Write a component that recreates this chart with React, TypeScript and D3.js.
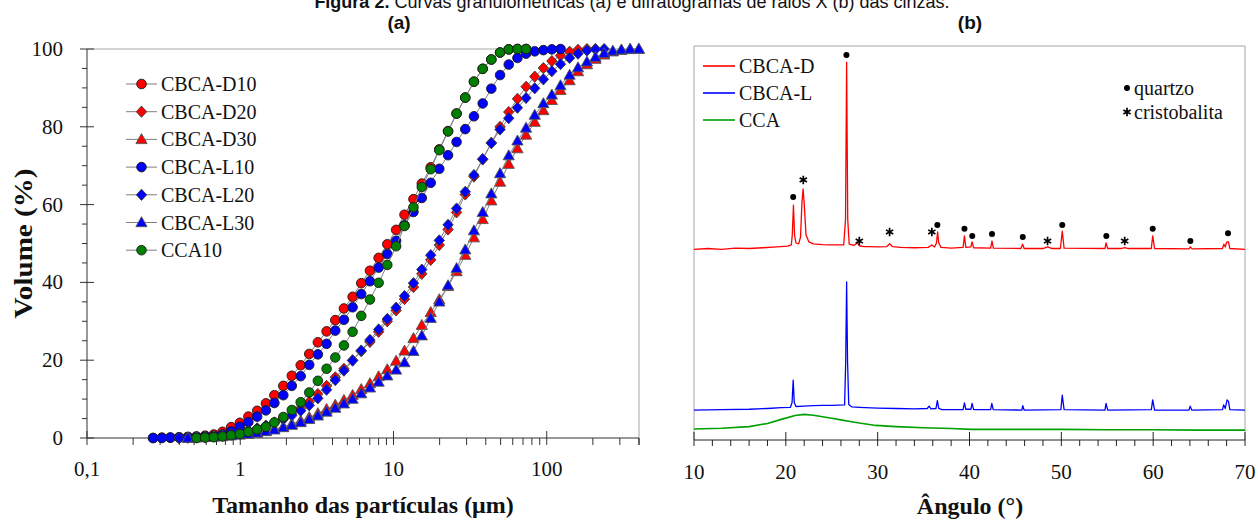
import { useRef, useEffect } from 'react';
import * as d3 from 'd3';

// ---------- (a) particle size distribution ----------
// size classes of the analyser (µm)
const SIZES = [0.270, 0.308, 0.350, 0.399, 0.455, 0.518, 0.590, 0.672, 0.766, 0.872, 0.994,
  1.13, 1.29, 1.47, 1.67, 1.91, 2.17, 2.48, 2.82, 3.21, 3.66, 4.17, 4.75, 5.41, 6.16, 7.02,
  8.00, 9.11, 10.4, 11.8, 13.5, 15.3, 17.5, 19.9, 22.7, 25.8, 29.4, 33.5, 38.2, 43.5, 49.6,
  56.5, 64.4, 73.3, 83.5, 95.1, 108, 123, 141, 160, 183, 208, 237, 270, 307, 350, 399];

// cumulative volume (%), null = class not plotted
const D10 = [0, 0.1, 0.1, 0.2, 0.3, 0.4, 0.6, 0.9, 1.6, 2.8, 3.9, 5.5, 7.0, 8.9, 11.0, 13.4, 16.0,
  18.7, 21.6, 24.6, 27.4, 30.3, 33.3, 36.3, 39.8, 43.0, 46.3, 49.8, 53.5, 57.4, 61.4, 65.4, 69.6,
  74.2, 78.9, 83.4, 87.5, 91.6, 94.9, 97.3, 99.1, 99.9, 100, 100,
  null, null, null, null, null, null, null, null, null, null, null, null, null];
const D20 = [null, null, null, 0, 0.1, 0.2, 0.3, 0.5, 0.7, 1.0, 1.4, 1.9, 2.5, 3.2, 4.0, 5.0, 6.2,
  7.6, 9.3, 11.3, 13.4, 15.6, 17.8, 20.0, 22.3, 24.7, 27.3, 30.0, 32.8, 35.7, 38.8, 42.2, 45.8,
  49.6, 53.6, 58.0, 62.6, 67.2, 71.6, 75.9, 80.0, 83.8, 87.2, 90.3, 92.9, 95.1, 96.9, 98.3, 99.3,
  99.8, 100, 100, null, null, null, null, null];
const D30 = [null, null, null, null, 0, 0.1, 0.2, 0.3, 0.5, 0.7, 0.9, 1.1, 1.4, 1.8, 2.3, 2.9, 3.6,
  4.4, 5.3, 6.3, 7.4, 8.5, 9.7, 11.0, 12.5, 14.0, 15.8, 17.6, 19.8, 22.4, 25.6, 29.0, 32.3, 35.6,
  39.0, 42.8, 47.0, 51.5, 56.2, 61.0, 65.8, 70.4, 74.4, 77.9, 81.2, 84.2, 86.8, 89.4, 91.9, 94.2,
  96.0, 97.4, 98.5, 99.3, 99.7, 99.9, 100];
const L10 = [0, 0, 0.1, 0.1, 0.2, 0.3, 0.4, 0.5, 0.9, 1.7, 2.9, 4.1, 5.5, 7.1, 9.0, 11.0, 13.4, 15.9,
  18.8, 21.5, 24.2, 27.6, 30.4, 33.6, 37.0, 40.3, 43.8, 47.3, 50.7, 54.7, 58.1, 61.7, 65.6, 69.2,
  72.7, 76.1, 79.4, 82.7, 86.0, 89.8, 93.3, 96.0, 97.7, 98.8, 99.4, 99.7, 99.9, 100,
  null, null, null, null, null, null, null, null, null];
const L20 = [null, null, null, 0, 0.1, 0.2, 0.3, 0.4, 0.6, 0.9, 1.3, 1.8, 2.4, 3.1, 3.9, 4.8, 5.8,
  7.0, 8.4, 10.2, 12.4, 14.9, 17.3, 19.9, 22.5, 25.2, 27.9, 30.6, 33.5, 36.5, 39.8, 43.3, 47.0,
  50.8, 54.8, 59.0, 63.3, 67.6, 71.7, 75.8, 79.3, 82.2, 84.9, 87.4, 89.9, 92.2, 94.3, 96.1, 97.7,
  98.8, 99.6, 99.9, 100, null, null, null, null];
const L30 = [null, null, null, null, 0, 0.1, 0.2, 0.3, 0.4, 0.6, 0.8, 1.0, 1.3, 1.7, 2.1, 2.7, 3.3,
  4.0, 4.8, 5.7, 6.7, 7.7, 8.8, 10.0, 11.4, 12.9, 14.4, 16.0, 17.5, 19.4, 22.3, 26.3, 30.8, 35.0,
  39.2, 43.6, 48.4, 53.3, 58.0, 62.8, 68.0, 72.6, 76.4, 79.7, 83.0, 86.0, 88.2, 90.6, 93.3, 95.2,
  96.7, 97.9, 98.9, 99.5, 99.8, 100, 100];
const CCA10 = [null, null, null, null, null, 0, 0.1, 0.2, 0.4, 0.7, 1.0, 1.6, 2.2, 2.9, 4.0, 5.4, 7.2,
  9.2, 11.7, 14.7, 17.8, 20.7, 23.8, 27.3, 31.4, 35.6, 39.9, 44.5, 49.3, 54.5, 59.3, 64.5, 69.1,
  74.0, 78.8, 83.4, 87.5, 91.6, 94.9, 97.3, 99.1, 99.9, 100, 100,
  null, null, null, null, null, null, null, null, null, null, null, null, null];

const PSD_NAMES = ['CBCA-D10', 'CBCA-D20', 'CBCA-D30', 'CBCA-L10', 'CBCA-L20', 'CBCA-L30', 'CCA10'];
const PSD_VALUES = [D10, D20, D30, L10, L20, L30, CCA10];
const PSD_COLORS = ['#FF0000', '#FF0000', '#FF0000', '#0000FF', '#0000FF', '#0000FF', '#008000'];
const PSD_SHAPES = ['circle', 'diamond', 'triangle', 'circle', 'diamond', 'triangle', 'circle'];
const PSD_X_TICKS = [0.1, 1, 10, 100];
const PSD_Y_TICKS = [0, 20, 40, 60, 80, 100];

// ---------- (b) XRD ----------
// [2θ, intensity (a.u.)]
const XRD_D = [[10, 484], [11.5, 486], [13, 484], [14.5, 487], [16, 486], [17.5, 488], [19, 490],
  [20.2, 492], [20.6, 495], [20.7, 520], [20.83, 596], [20.95, 520], [21.1, 500], [21.4, 498],
  [21.6, 515], [21.75, 600], [21.88, 637], [22.0, 600], [22.2, 520], [22.5, 503], [23, 498],
  [24, 496], [25, 495], [26.3, 495], [26.5, 560], [26.62, 959], [26.74, 560], [26.9, 497],
  [27.4, 494], [27.8, 500], [28.0, 493], [28.5, 491], [29, 491], [30, 490], [31, 491], [31.3, 498],
  [31.6, 491], [32.5, 489], [34, 488], [35.5, 489], [35.9, 495], [36.2, 490], [36.4, 500],
  [36.53, 528], [36.65, 500], [36.9, 489], [38, 487], [39.3, 489], [39.45, 518], [39.6, 489],
  [40.15, 490], [40.28, 503], [40.45, 488], [42.3, 487], [42.45, 505], [42.6, 487], [45.6, 486],
  [45.78, 497], [45.95, 486], [48.0, 486], [48.5, 490], [49.0, 486], [49.9, 486], [50.1, 530],
  [50.3, 487], [54.75, 486], [54.87, 500], [55.05, 486], [56.5, 486], [56.9, 488], [57.3, 486],
  [59.8, 486], [59.95, 518], [60.15, 486], [63.9, 485], [64.05, 490], [64.25, 485], [67.55, 486],
  [67.7, 497], [67.85, 490], [68.0, 502], [68.2, 503], [68.35, 486], [70, 484]];
const XRD_L = [[10, 76], [13, 77], [16, 78], [18, 80], [19.5, 82], [20.5, 83], [20.68, 95],
  [20.8, 152], [20.92, 95], [21.1, 85], [22, 86], [23, 87], [24, 88], [25, 88], [26.4, 89],
  [26.52, 200], [26.62, 401], [26.72, 200], [26.85, 90], [27.2, 84], [28, 83], [30, 81], [32, 80],
  [34, 79], [35.4, 80], [35.6, 86], [35.8, 79], [36.35, 80], [36.5, 100], [36.65, 80], [37, 77],
  [39.3, 77], [39.45, 94], [39.6, 78], [40.15, 78], [40.28, 93], [40.45, 77], [42.3, 77],
  [42.43, 93], [42.58, 77], [45.7, 76], [45.8, 87], [45.95, 76], [49.95, 77], [50.1, 114],
  [50.3, 77], [54.75, 76], [54.87, 93], [55.05, 76], [59.8, 77], [59.95, 102], [60.15, 76],
  [63.9, 76], [64.03, 86], [64.2, 76], [67.55, 77], [67.68, 89], [67.85, 80], [68.05, 102],
  [68.2, 98], [68.35, 77], [70, 76]];
const XRD_CCA = [[10, 28], [13, 30], [16, 34], [18, 42], [19.6, 53], [21, 62], [22, 65], [23, 63],
  [24, 59], [25, 55], [26, 51], [27, 47], [28, 43], [29.8, 37], [32, 34], [35, 31], [38, 29],
  [40.2, 27], [45, 27], [50, 27], [55, 26], [60, 26], [65, 25], [70, 25]];

const XRD_NAMES = ['CBCA-D', 'CBCA-L', 'CCA'];
const XRD_VALUES = [XRD_D, XRD_L, XRD_CCA];
const XRD_COLORS = ['#FF0000', '#0000FF', '#00A000'];
const XRD_X_TICKS = [10, 20, 30, 40, 50, 60, 70];

// phase labels [2θ, intensity where the symbol sits]
const QUARTZ = [[20.8, 617], [26.6, 977], [36.5, 546], [39.45, 536], [40.3, 518], [42.45, 523],
  [45.8, 515], [50.1, 546], [54.9, 518], [59.95, 536], [64.05, 505], [68.15, 525]];
const CRISTOBALITA = [[21.9, 660], [28.0, 505], [31.3, 528], [35.9, 528], [48.5, 505], [56.9, 505]];

const SERIF = '"Liberation Serif", "Times New Roman", serif';
const SANS = '"Liberation Sans", Arial, sans-serif';

function marker(g, shape, x, y, fill) {
  if (shape === 'circle') {
    g.append('circle').attr('cx', x).attr('cy', y).attr('r', 4.8)
      .attr('fill', fill).attr('stroke', '#1a1a1a').attr('stroke-width', 0.9);
  } else if (shape === 'diamond') {
    g.append('path').attr('transform', 'translate(' + x + ',' + y + ')')
      .attr('d', 'M0,-5.6L5.2,0L0,5.6L-5.2,0Z')
      .attr('fill', fill).attr('stroke', '#3a3a3a').attr('stroke-width', 0.9);
  } else {
    g.append('path').attr('transform', 'translate(' + x + ',' + y + ')')
      .attr('d', 'M0,-5.8L5.6,4.2L-5.6,4.2Z')
      .attr('fill', fill).attr('stroke', '#555').attr('stroke-width', 0.9);
  }
}

function asterisk(g, x, y) {
  var r = 4.2;
  var d = '';
  [90, 30, 150].forEach(function (a) {
    var rad = a * Math.PI / 180;
    var dx = r * Math.cos(rad), dy = r * Math.sin(rad);
    d += 'M' + (x - dx) + ',' + (y - dy) + 'L' + (x + dx) + ',' + (y + dy);
  });
  g.append('path').attr('d', d).attr('stroke', '#000').attr('stroke-width', 1.7);
}

function drawPsd(g) {
  var left = 87, right = 639, top = 49, bottom = 438;
  var x = d3.scaleLog().domain([0.1, 400]).range([left, right]);
  var y = d3.scaleLinear().domain([0, 100]).range([bottom, top]);

  // frame
  g.append('line').attr('x1', left).attr('x2', right).attr('y1', top).attr('y2', top).attr('stroke', '#a6a6a6');
  g.append('line').attr('x1', right).attr('x2', right).attr('y1', top).attr('y2', bottom).attr('stroke', '#a6a6a6');

  // y ticks
  d3.range(0, 101, 5).forEach(function (v) {
    var major = v % 20 === 0;
    g.append('line').attr('x1', major ? left - 7 : left - 5).attr('x2', major ? left + 7 : left)
      .attr('y1', y(v)).attr('y2', y(v)).attr('stroke', '#333').attr('stroke-width', 1);
  });
  PSD_Y_TICKS.forEach(function (v) {
    g.append('text').attr('x', left - 24).attr('y', y(v)).attr('text-anchor', 'end')
      .attr('dominant-baseline', 'central').attr('font-family', SERIF).attr('font-size', 21)
      .attr('fill', '#111').text(v);
  });

  // x ticks
  [0.1, 1, 10, 100].forEach(function (dec) {
    for (var k = 1; k <= 9; k++) {
      var v = dec * k;
      if (v > 400) break;
      var major = k === 1;
      g.append('line').attr('x1', x(v)).attr('x2', x(v))
        .attr('y1', major ? bottom - 7 : bottom).attr('y2', bottom + 7)
        .attr('stroke', '#333').attr('stroke-width', 1);
    }
  });
  g.append('line').attr('x1', right).attr('x2', right).attr('y1', bottom).attr('y2', bottom + 7).attr('stroke', '#333');
  PSD_X_TICKS.forEach(function (v) {
    g.append('text').attr('x', x(v)).attr('y', 469).attr('text-anchor', 'middle')
      .attr('dominant-baseline', 'central').attr('font-family', SERIF).attr('font-size', 21)
      .attr('fill', '#111').text(String(v).replace('.', ','));
  });

  // axes
  g.append('line').attr('x1', left).attr('x2', left).attr('y1', top).attr('y2', bottom).attr('stroke', '#333');
  g.append('line').attr('x1', left).attr('x2', right).attr('y1', bottom).attr('y2', bottom).attr('stroke', '#333');

  // titles
  g.append('text').attr('x', 363).attr('y', 505).attr('text-anchor', 'middle')
    .attr('dominant-baseline', 'central').attr('font-family', SERIF).attr('font-weight', 'bold')
    .attr('font-size', 24).attr('fill', '#111').text('Tamanho das partículas (μm)');
  g.append('text').attr('transform', 'translate(23,' + (top + bottom) / 2 + ') rotate(-90)')
    .attr('text-anchor', 'middle').attr('dominant-baseline', 'central').attr('font-family', SERIF)
    .attr('font-weight', 'bold').attr('font-size', 25).attr('fill', '#111')
    .attr('textLength', 150).attr('lengthAdjust', 'spacingAndGlyphs').text('Volume (%)');

  // series
  var line = d3.line()
    .defined(function (d) { return d[1] !== null; })
    .x(function (d) { return x(d[0]); })
    .y(function (d) { return y(d[1]); });

  PSD_VALUES.forEach(function (vals, si) {
    var pts = SIZES.map(function (s, i) { return [s, vals[i]]; });
    g.append('path').attr('d', line(pts)).attr('fill', 'none').attr('stroke', '#7f7f7f').attr('stroke-width', 1);
    pts.forEach(function (p) {
      if (p[1] === null) return;
      marker(g, PSD_SHAPES[si], x(p[0]), y(p[1]), PSD_COLORS[si]);
    });
  });

  // legend
  PSD_NAMES.forEach(function (name, i) {
    var ly = 84 + i * 27.7;
    g.append('line').attr('x1', 126).attr('x2', 157).attr('y1', ly).attr('y2', ly).attr('stroke', '#7f7f7f');
    marker(g, PSD_SHAPES[i], 141.5, ly, PSD_COLORS[i]);
    g.append('text').attr('x', 161).attr('y', ly).attr('dominant-baseline', 'central')
      .attr('font-family', SERIF).attr('font-size', 20).attr('fill', '#111').text(name);
  });
}

function drawXrd(g) {
  var left = 694, right = 1245, top = 46, bottom = 440;
  var x = d3.scaleLinear().domain([10, 70]).range([left, right]);
  var y = d3.scaleLinear().domain([0, 1000]).range([bottom, top]);

  g.append('path').attr('d', 'M' + left + ',' + bottom + 'V' + top + 'H' + right + 'V' + bottom)
    .attr('fill', 'none').attr('stroke', '#a6a6a6');

  d3.range(10, 71, 2).forEach(function (v) {
    var major = v % 10 === 0;
    g.append('line').attr('x1', x(v)).attr('x2', x(v)).attr('y1', major ? bottom - 8 : bottom)
      .attr('y2', bottom + 6).attr('stroke', '#222');
  });
  g.append('line').attr('x1', left).attr('x2', right).attr('y1', bottom).attr('y2', bottom).attr('stroke', '#222');
  XRD_X_TICKS.forEach(function (v) {
    g.append('text').attr('x', x(v)).attr('y', 472).attr('text-anchor', 'middle')
      .attr('dominant-baseline', 'central').attr('font-family', SERIF).attr('font-size', 21)
      .attr('fill', '#111').text(v);
  });
  g.append('text').attr('x', 970).attr('y', 506).attr('text-anchor', 'middle')
    .attr('dominant-baseline', 'central').attr('font-family', SERIF).attr('font-weight', 'bold')
    .attr('font-size', 24).attr('fill', '#111').text('Ângulo (°)');

  var line = d3.line()
    .x(function (d) { return x(d[0]); })
    .y(function (d) { return y(d[1]); });

  XRD_VALUES.slice().reverse().forEach(function (vals, ri) {
    var i = XRD_VALUES.length - 1 - ri;
    g.append('path').attr('d', line(vals)).attr('fill', 'none').attr('stroke', XRD_COLORS[i])
      .attr('stroke-width', i === 2 ? 1.6 : 1.3).attr('stroke-linejoin', 'round');
  });

  QUARTZ.forEach(function (q) {
    g.append('circle').attr('cx', x(q[0])).attr('cy', y(q[1])).attr('r', 3).attr('fill', '#000');
  });
  CRISTOBALITA.forEach(function (c) { asterisk(g, x(c[0]), y(c[1])); });

  // legend
  XRD_NAMES.forEach(function (name, i) {
    var ly = 66 + i * 27;
    g.append('line').attr('x1', 703).attr('x2', 735).attr('y1', ly).attr('y2', ly)
      .attr('stroke', XRD_COLORS[i]).attr('stroke-width', 1.6);
    g.append('text').attr('x', 739).attr('y', ly).attr('dominant-baseline', 'central')
      .attr('font-family', SERIF).attr('font-size', 20).attr('fill', '#111').text(name);
  });
  g.append('circle').attr('cx', 1127).attr('cy', 88).attr('r', 3).attr('fill', '#000');
  g.append('text').attr('x', 1134).attr('y', 88).attr('dominant-baseline', 'central')
    .attr('font-family', SERIF).attr('font-size', 20).attr('fill', '#111').text('quartzo');
  asterisk(g, 1127, 112);
  g.append('text').attr('x', 1134).attr('y', 112).attr('dominant-baseline', 'central')
    .attr('font-family', SERIF).attr('font-size', 20).attr('fill', '#111').text('cristobalita');
}

function drawHeader(g) {
  var t = g.append('text').attr('x', 632).attr('y', 8).attr('text-anchor', 'middle')
    .attr('font-family', SANS).attr('font-size', 18).attr('fill', '#111');
  t.append('tspan').attr('font-weight', 'bold').text('Figura 2.');
  t.append('tspan').text(' Curvas granulométricas (a) e difratogramas de raios X (b) das cinzas.');
  g.append('text').attr('x', 399).attr('y', 22).attr('text-anchor', 'middle').attr('dominant-baseline', 'central')
    .attr('font-family', SANS).attr('font-weight', 'bold').attr('font-size', 19).attr('fill', '#111').text('(a)');
  g.append('text').attr('x', 970).attr('y', 22).attr('text-anchor', 'middle').attr('dominant-baseline', 'central')
    .attr('font-family', SANS).attr('font-weight', 'bold').attr('font-size', 19).attr('fill', '#111').text('(b)');
}

export default function App() {
  const ref = useRef<SVGSVGElement>(null);

  useEffect(function () {
    var svg = d3.select(ref.current);
    svg.selectAll('*').remove();
    drawPsd(svg.append('g'));
    drawXrd(svg.append('g'));
    drawHeader(svg.append('g'));
  }, []);

  return (
    <div style={{ position: 'absolute', left: 0, top: 0 }}>
      <svg ref={ref} width={1258} height={520} style={{ display: 'block', background: '#fff' }} />
    </div>
  );
}
